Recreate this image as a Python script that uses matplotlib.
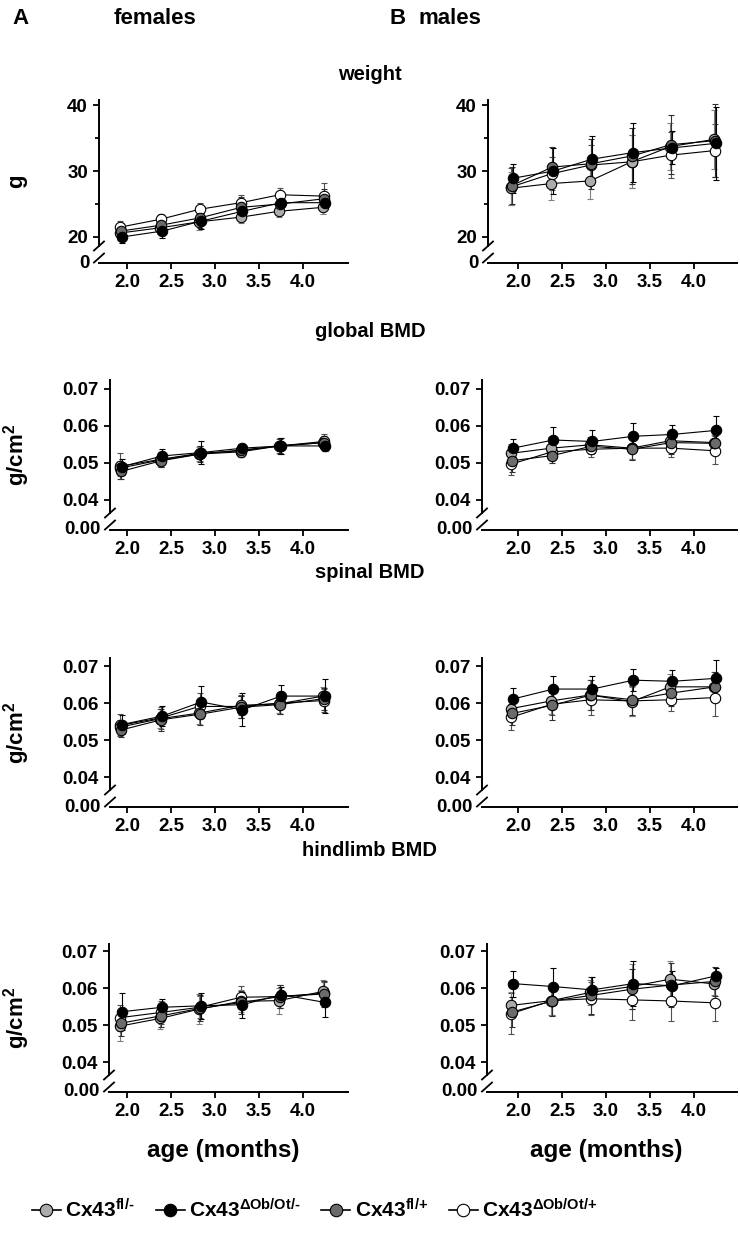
import numpy as np
import matplotlib
matplotlib.use("Agg")
import matplotlib.pyplot as plt
from matplotlib.lines import Line2D

plt.rcParams.update({
    "font.family": ["Liberation Sans", "DejaVu Sans"],
    "font.weight": "bold",
    "mathtext.fontset": "custom",
    "mathtext.rm": "Liberation Sans:bold",
    "mathtext.it": "Liberation Sans:bold",
    "mathtext.bf": "Liberation Sans:bold",
    "axes.linewidth": 1.4,
})

#%%
# data
ages = [1.93, 2.39, 2.83, 3.30, 3.74, 4.24]
age_ticks = [2.0, 2.5, 3.0, 3.5, 4.0]
age_tick_labels = ["2.0", "2.5", "3.0", "3.5", "4.0"]

groups = ["fl/-", "dOb/-", "fl/+", "dOb/+"]
group_labels = [r"Cx43$^{\text{fl/-}}$", r"Cx43$^{\Delta\text{Ob/Ot/-}}$",
                r"Cx43$^{\text{fl/+}}$", r"Cx43$^{\Delta\text{Ob/Ot/+}}$"]
group_colors = ["#ababab", "#000000", "#6b6b6b", "#ffffff"]
group_ecolors = ["#808080", "#000000", "#303030", "#505050"]
group_dx = [-0.01, 0.012, 0.0, -0.005]
draw_order = [3, 0, 2, 1]

# weight (g)
f_weight_lt = [20.6, 21.4, 22.3, 23.0, 23.9, 24.5]
f_weight_bk = [20.0, 20.9, 22.4, 23.9, 25.2, 25.2]
f_weight_dk = [20.9, 21.8, 22.9, 24.5, 25.0, 25.8]
f_weight_wh = [21.5, 22.7, 24.2, 25.2, 26.4, 26.2]
f_weight_sd_lt = [1.0, 1.0, 1.2, 0.9, 0.8, 1.0]
f_weight_sd_bk = [0.9, 1.0, 1.2, 1.0, 1.1, 0.9]
f_weight_sd_dk = [1.2, 1.0, 1.6, 1.5, 1.2, 1.5]
f_weight_sd_wh = [1.0, 0.8, 1.0, 1.2, 1.0, 2.0]

m_weight_lt = [27.4, 28.1, 28.5, 31.4, 33.7, 34.8]
m_weight_bk = [28.9, 30.0, 31.8, 32.8, 33.5, 34.2]
m_weight_dk = [27.8, 30.6, 31.1, 32.3, 34.0, 34.6]
m_weight_wh = [27.6, 29.6, 30.9, 31.4, 32.4, 33.1]
m_weight_sd_lt = [2.5, 2.5, 2.7, 4.0, 3.5, 4.5]
m_weight_sd_bk = [2.2, 3.5, 3.5, 4.5, 2.5, 5.5]
m_weight_sd_dk = [2.8, 3.0, 3.8, 4.2, 4.5, 5.5]
m_weight_sd_wh = [2.8, 2.5, 3.0, 4.0, 3.5, 4.0]

# global BMD (g/cm2)
f_global_lt = [0.0486, 0.0508, 0.0524, 0.0530, 0.0546, 0.0555]
f_global_bk = [0.0490, 0.0519, 0.0528, 0.0540, 0.0546, 0.0546]
f_global_dk = [0.0477, 0.0506, 0.0524, 0.0535, 0.0546, 0.0555]
f_global_wh = [0.0491, 0.0510, 0.0526, 0.0533, 0.0546, 0.0558]
f_global_sd_lt = [0.0020, 0.0015, 0.0020, 0.0015, 0.0020, 0.0015]
f_global_sd_bk = [0.0022, 0.0018, 0.0030, 0.0012, 0.0022, 0.0015]
f_global_sd_dk = [0.0020, 0.0018, 0.0022, 0.0015, 0.0020, 0.0018]
f_global_sd_wh = [0.0035, 0.0020, 0.0020, 0.0018, 0.0022, 0.0020]

m_global_lt = [0.0526, 0.0540, 0.0549, 0.0540, 0.0560, 0.0555]
m_global_bk = [0.0540, 0.0562, 0.0558, 0.0572, 0.0577, 0.0588]
m_global_dk = [0.0506, 0.0520, 0.0545, 0.0537, 0.0555, 0.0553]
m_global_wh = [0.0497, 0.0530, 0.0537, 0.0540, 0.0540, 0.0533]
m_global_sd_lt = [0.0025, 0.0030, 0.0020, 0.0030, 0.0020, 0.0020]
m_global_sd_bk = [0.0025, 0.0035, 0.0030, 0.0035, 0.0025, 0.0040]
m_global_sd_dk = [0.0030, 0.0020, 0.0020, 0.0030, 0.0030, 0.0020]
m_global_sd_wh = [0.0030, 0.0020, 0.0020, 0.0030, 0.0025, 0.0035]

# spinal BMD (g/cm2)
f_spinal_lt = [0.0535, 0.0558, 0.0573, 0.0594, 0.0598, 0.0619]
f_spinal_bk = [0.0542, 0.0565, 0.0603, 0.0582, 0.0619, 0.0619]
f_spinal_dk = [0.0527, 0.0555, 0.0570, 0.0589, 0.0596, 0.0612]
f_spinal_wh = [0.0540, 0.0560, 0.0591, 0.0591, 0.0600, 0.0607]
f_spinal_sd_lt = [0.0020, 0.0025, 0.0030, 0.0025, 0.0025, 0.0025]
f_spinal_sd_bk = [0.0025, 0.0028, 0.0042, 0.0045, 0.0030, 0.0045]
f_spinal_sd_dk = [0.0020, 0.0030, 0.0030, 0.0030, 0.0025, 0.0030]
f_spinal_sd_wh = [0.0030, 0.0030, 0.0035, 0.0030, 0.0030, 0.0030]

m_spinal_lt = [0.0585, 0.0606, 0.0622, 0.0604, 0.0644, 0.0644]
m_spinal_bk = [0.0611, 0.0638, 0.0638, 0.0662, 0.0659, 0.0667]
m_spinal_dk = [0.0572, 0.0594, 0.0622, 0.0609, 0.0627, 0.0644]
m_spinal_wh = [0.0562, 0.0597, 0.0609, 0.0606, 0.0609, 0.0615]
m_spinal_sd_lt = [0.0030, 0.0035, 0.0040, 0.0040, 0.0035, 0.0040]
m_spinal_sd_bk = [0.0030, 0.0035, 0.0035, 0.0030, 0.0030, 0.0050]
m_spinal_sd_dk = [0.0030, 0.0040, 0.0040, 0.0040, 0.0035, 0.0040]
m_spinal_sd_wh = [0.0035, 0.0030, 0.0040, 0.0040, 0.0030, 0.0050]

# hindlimb BMD (g/cm2)
f_hind_lt = [0.0497, 0.0518, 0.0543, 0.0564, 0.0566, 0.0591]
f_hind_bk = [0.0536, 0.0548, 0.0552, 0.0555, 0.0582, 0.0561]
f_hind_dk = [0.0505, 0.0525, 0.0545, 0.0561, 0.0577, 0.0584]
f_hind_wh = [0.0520, 0.0534, 0.0548, 0.0575, 0.0577, 0.0586]
f_hind_sd_lt = [0.0040, 0.0030, 0.0040, 0.0030, 0.0035, 0.0030]
f_hind_sd_bk = [0.0050, 0.0022, 0.0035, 0.0035, 0.0022, 0.0040]
f_hind_sd_dk = [0.0035, 0.0030, 0.0035, 0.0030, 0.0030, 0.0035]
f_hind_sd_wh = [0.0035, 0.0030, 0.0030, 0.0030, 0.0030, 0.0030]

m_hind_lt = [0.0553, 0.0566, 0.0588, 0.0604, 0.0624, 0.0611]
m_hind_bk = [0.0612, 0.0604, 0.0595, 0.0612, 0.0606, 0.0633]
m_hind_dk = [0.0535, 0.0565, 0.0580, 0.0597, 0.0608, 0.0618]
m_hind_wh = [0.0531, 0.0566, 0.0571, 0.0568, 0.0565, 0.0560]
m_hind_sd_lt = [0.0035, 0.0040, 0.0035, 0.0060, 0.0050, 0.0030]
m_hind_sd_bk = [0.0035, 0.0050, 0.0035, 0.0060, 0.0040, 0.0020]
m_hind_sd_dk = [0.0040, 0.0040, 0.0050, 0.0055, 0.0060, 0.0040]
m_hind_sd_wh = [0.0055, 0.0040, 0.0045, 0.0055, 0.0055, 0.0050]

#%%
fig = plt.figure(figsize=(7.4, 12.34), dpi=100)
W, H = 740.0, 1234.0
tick_fs = 13.5


def make_axes(left, right, top, bottom):
    return fig.add_axes([left / W, 1 - bottom / H, (right - left) / W, (bottom - top) / H])


def draw_panel(ax, means, sds, ylim, yticks, ytick_labels, zero_label, tick2_px, left_px, right_px,
               minor=None):
    ppu = 88.0
    ax.set_xlim(2.0 - (tick2_px - left_px) / ppu, 4.0 + (right_px - tick2_px - 2 * ppu) / ppu)
    ax.set_ylim(*ylim)
    for gi in draw_order:
        x = np.array(ages) + group_dx[gi]
        ax.errorbar(x, means[gi], yerr=sds[gi], fmt="none", ecolor=group_ecolors[gi],
                    elinewidth=0.8, capsize=2.5, capthick=0.8, zorder=2)
    for gi in draw_order:
        x = np.array(ages) + group_dx[gi]
        ax.plot(x, means[gi], color="black", linewidth=0.8, marker="o", markersize=7.5,
                markerfacecolor=group_colors[gi], markeredgecolor="black",
                markeredgewidth=0.8, zorder=3)
    ax.spines["top"].set_visible(False)
    ax.spines["right"].set_visible(False)
    ax.set_xticks(age_ticks)
    ax.set_xticklabels(age_tick_labels)
    ax.set_yticks(yticks)
    ax.set_yticklabels(ytick_labels)
    if minor is not None:
        ax.set_yticks(minor, minor=True)
    ax.tick_params(axis="both", direction="out", length=4, width=1.3, labelsize=tick_fs, pad=4)
    ax.tick_params(axis="y", which="minor", direction="out", length=3, width=1.3)

    # broken y axis
    bbox = ax.get_position()
    axh = bbox.height * H
    axw = bbox.width * W
    gap = 17.0 / axh
    ax.spines["left"].set_bounds(ylim[0] + gap * (ylim[1] - ylim[0]), ylim[1])
    dx, dy = 5.0 / axw, 4.5 / axh
    ax.plot([-dx, dx], [gap - dy, gap + dy], transform=ax.transAxes, color="black",
            linewidth=1.3, clip_on=False)
    c = 5.0 / axh
    ax.plot([-dx, dx], [c - dy, c + dy], transform=ax.transAxes, color="black",
            linewidth=1.3, clip_on=False)
    ax.text(-9.0 / axw, 0.0, zero_label, transform=ax.transAxes, ha="right", va="center",
            fontsize=tick_fs, fontweight="bold")


rows = [
    ("weight", 100, 263, (16.06, 40.76), [20, 30, 40], ["20", "30", "40"], "0", [25, 35],
     [[f_weight_lt, f_weight_bk, f_weight_dk, f_weight_wh],
      [f_weight_sd_lt, f_weight_sd_bk, f_weight_sd_dk, f_weight_sd_wh]],
     [[m_weight_lt, m_weight_bk, m_weight_dk, m_weight_wh],
      [m_weight_sd_lt, m_weight_sd_bk, m_weight_sd_dk, m_weight_sd_wh]], 99, 488),
    ("global BMD", 380, 530, (0.0319, 0.0724), [0.04, 0.05, 0.06, 0.07],
     ["0.04", "0.05", "0.06", "0.07"], "0.00", None,
     [[f_global_lt, f_global_bk, f_global_dk, f_global_wh],
      [f_global_sd_lt, f_global_sd_bk, f_global_sd_dk, f_global_sd_wh]],
     [[m_global_lt, m_global_bk, m_global_dk, m_global_wh],
      [m_global_sd_lt, m_global_sd_bk, m_global_sd_dk, m_global_sd_wh]], 110, 482),
    ("spinal BMD", 658, 807, (0.0319, 0.0722), [0.04, 0.05, 0.06, 0.07],
     ["0.04", "0.05", "0.06", "0.07"], "0.00", None,
     [[f_spinal_lt, f_spinal_bk, f_spinal_dk, f_spinal_wh],
      [f_spinal_sd_lt, f_spinal_sd_bk, f_spinal_sd_dk, f_spinal_sd_wh]],
     [[m_spinal_lt, m_spinal_bk, m_spinal_dk, m_spinal_wh],
      [m_spinal_sd_lt, m_spinal_sd_bk, m_spinal_sd_dk, m_spinal_sd_wh]], 110, 482),
    ("hindlimb BMD", 944, 1092, (0.0319, 0.0719), [0.04, 0.05, 0.06, 0.07],
     ["0.04", "0.05", "0.06", "0.07"], "0.00", None,
     [[f_hind_lt, f_hind_bk, f_hind_dk, f_hind_wh],
      [f_hind_sd_lt, f_hind_sd_bk, f_hind_sd_dk, f_hind_sd_wh]],
     [[m_hind_lt, m_hind_bk, m_hind_dk, m_hind_wh],
      [m_hind_sd_lt, m_hind_sd_bk, m_hind_sd_dk, m_hind_sd_wh]], 109, 487),
]

title_y = {"weight": 75, "global BMD": 332, "spinal BMD": 573, "hindlimb BMD": 850}

for (name, top, bottom, ylim, yt, ytl, zl, minor, fdata, mdata, fl, ml) in rows:
    ax_f = make_axes(fl, 348, top, bottom)
    draw_panel(ax_f, fdata[0], fdata[1], ylim, yt, ytl, zl, 127, fl, 348, minor)
    ax_m = make_axes(ml, 737, top, bottom)
    draw_panel(ax_m, mdata[0], mdata[1], ylim, yt, ytl, zl, 518, ml, 737, minor)
    fig.text(370 / W, 1 - title_y[name] / H, name, ha="center", va="center",
             fontsize=14.5, fontweight="bold")
    ylab = "g" if name == "weight" else r"g/cm$^{\mathbf{2}}$"
    fig.text(17 / W, 1 - (top + bottom) / 2 / H, ylab, rotation=90, ha="center", va="center",
             fontsize=16, fontweight="bold")

# column headers
fig.text(12 / W, 1 - 18 / H, "A", ha="left", va="center", fontsize=16, fontweight="bold")
fig.text(155 / W, 1 - 18 / H, "females", ha="center", va="center", fontsize=16, fontweight="bold")
fig.text(390 / W, 1 - 18 / H, "B", ha="left", va="center", fontsize=16, fontweight="bold")
fig.text(450 / W, 1 - 18 / H, "males", ha="center", va="center", fontsize=16, fontweight="bold")

# x labels
fig.text(223 / W, 1 - 1150 / H, "age (months)", ha="center", va="center", fontsize=17.5,
         fontweight="bold")
fig.text(606 / W, 1 - 1150 / H, "age (months)", ha="center", va="center", fontsize=17.5,
         fontweight="bold")

# legend
handles = [Line2D([], [], color="black", linewidth=1.2, marker="o", markersize=9,
                  markerfacecolor=c, markeredgecolor="black", markeredgewidth=0.8)
           for c in group_colors]
fig.legend(handles, group_labels, loc="center", bbox_to_anchor=(0.425, 1 - 1210 / H), ncol=4,
           frameon=False, fontsize=15, handlelength=1.4, handletextpad=0.2, columnspacing=1.0)

fig.savefig("out.png", dpi=100)
